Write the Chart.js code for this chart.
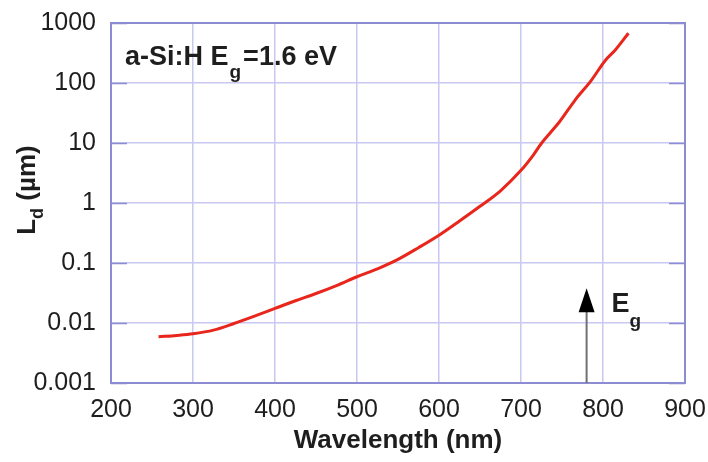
<!DOCTYPE html>
<html>
<head>
<meta charset="utf-8">
<script src="https://cdn.jsdelivr.net/npm/chart.js@4"></script>
<style>
  body { margin: 0; background: #fff; }
  #wrap { width: 708px; height: 462px; }
</style>
</head>
<body>
<div id="wrap"><canvas id="myChart" width="708" height="462"></canvas></div>
<script>
// diffusion length vs wavelength
const wavelength = [258, 280, 300, 325, 350, 375, 400, 425, 450, 475, 500, 525, 550, 575, 600, 625, 650, 675, 700, 715, 725, 737, 747, 766, 786, 803, 815, 831];
const diffLength = [0.0059, 0.0062, 0.0066, 0.0076, 0.0098, 0.013, 0.0175, 0.0235, 0.031, 0.042, 0.059, 0.08, 0.115, 0.18, 0.29, 0.5, 0.88, 1.6, 3.5, 6.3, 9.9, 15.5, 22.6, 52, 112, 240, 355, 676];
const yTicks = [0.001, 0.01, 0.1, 1, 10, 100, 1000];
const yTickLabels = ["0.001", "0.01", "0.1", "1", "10", "100", "1000"];
const xTicks = [200, 300, 400, 500, 600, 700, 800, 900];
const egWavelength = 780;
const egArrowTop = 0.038;

const gridColor = "#c8c8f2";
const frameColor = "#8c8cd2";
const textColor = "#1e1e1e";
const FONT = "'Liberation Sans', Arial, sans-serif";

function startApp() {
  const points = wavelength.map((w, i) => ({ x: w, y: diffLength[i] }));

  const extras = {
    id: "extras",
    afterDraw(chart) {
      const ctx = chart.ctx;
      const area = chart.chartArea;
      const xs = chart.scales.x;
      const ys = chart.scales.y;
      ctx.save();

      // frame
      ctx.strokeStyle = frameColor;
      ctx.lineWidth = 2;
      ctx.strokeRect(area.left, area.top, area.right - area.left, area.bottom - area.top);

      // short inner tick marks on left and right borders
      ctx.lineWidth = 1.5;
      yTicks.forEach((v) => {
        const y = Math.round(ys.getPixelForValue(v)) + 0.5;
        ctx.beginPath();
        ctx.moveTo(area.left, y);
        ctx.lineTo(area.left + 16, y);
        ctx.moveTo(area.right - 16, y);
        ctx.lineTo(area.right, y);
        ctx.stroke();
      });

      // Eg arrow
      const ax = xs.getPixelForValue(egWavelength);
      const tipY = ys.getPixelForValue(egArrowTop);
      ctx.strokeStyle = "#707070";
      ctx.lineWidth = 2;
      ctx.beginPath();
      ctx.moveTo(ax, area.bottom);
      ctx.lineTo(ax, tipY + 20);
      ctx.stroke();
      ctx.fillStyle = "#000";
      ctx.beginPath();
      ctx.moveTo(ax, tipY);
      ctx.lineTo(ax - 8, tipY + 24);
      ctx.lineTo(ax + 8, tipY + 24);
      ctx.closePath();
      ctx.fill();

      ctx.fillStyle = textColor;
      ctx.textBaseline = "alphabetic";
      ctx.textAlign = "left";
      ctx.font = "bold 27px " + FONT;
      ctx.fillText("E", ax + 25, tipY + 24);
      ctx.font = "bold 19px " + FONT;
      ctx.fillText("g", ax + 43, tipY + 39);

      // material label
      let tx = area.left + 14;
      const ty = area.top + 42;
      ctx.font = "bold 27px " + FONT;
      ctx.fillText("a-Si:H E", tx, ty);
      tx += ctx.measureText("a-Si:H E").width;
      ctx.font = "bold 19px " + FONT;
      ctx.fillText("g", tx + 1, ty + 13);
      tx += ctx.measureText("g").width + 3;
      ctx.font = "bold 27px " + FONT;
      ctx.fillText("=1.6 eV", tx, ty);

      // y axis title with subscript
      ctx.translate(35, 190);
      ctx.rotate(-Math.PI / 2);
      ctx.font = "bold 26px " + FONT;
      const wL = ctx.measureText("L").width;
      ctx.font = "bold 18px " + FONT;
      const wd = ctx.measureText("d").width;
      ctx.font = "bold 26px " + FONT;
      const wRest = ctx.measureText(" (\u00b5m)").width;
      let px = -(wL + wd + wRest) / 2;
      ctx.fillText("L", px, 0);
      px += wL;
      ctx.font = "bold 18px " + FONT;
      ctx.fillText("d", px, 8);
      px += wd;
      ctx.font = "bold 26px " + FONT;
      ctx.fillText(" (\u00b5m)", px, 0);
      ctx.restore();
    },
  };

  const ctx = document.getElementById("myChart");
  new Chart(ctx, {
    type: "line",
    data: {
      datasets: [
        {
          data: points,
          borderColor: "#e8261c",
          borderWidth: 3,
          pointRadius: 0,
          cubicInterpolationMode: "monotone",
          fill: false,
        },
      ],
    },
    options: {
      responsive: false,
      animation: false,
      layout: { padding: { top: 23, right: 23, left: 0, bottom: 0 } },
      plugins: { legend: { display: false }, tooltip: { enabled: false } },
      scales: {
        x: {
          type: "linear",
          min: 200,
          max: 900,
          afterBuildTicks: (scale) => {
            scale.ticks = xTicks.map((v) => ({ value: v }));
          },
          afterFit: (scale) => {
            scale.height = 79;
            scale.paddingLeft = 0;
            scale.paddingRight = 0;
          },
          grid: { color: gridColor, lineWidth: 1.5, drawTicks: false },
          border: { display: false },
          ticks: {
            color: textColor,
            font: { family: FONT, size: 25 },
            padding: 12,
            maxRotation: 0,
          },
          title: {
            display: true,
            text: "Wavelength (nm)",
            color: textColor,
            font: { family: FONT, size: 26, weight: "bold" },
            padding: { top: 0, bottom: 6 },
          },
        },
        y: {
          type: "logarithmic",
          min: 0.001,
          max: 1000,
          afterBuildTicks: (scale) => {
            scale.ticks = yTicks.map((v) => ({ value: v }));
          },
          afterFit: (scale) => {
            scale.width = 111;
            scale.paddingTop = 0;
            scale.paddingBottom = 0;
          },
          grid: { color: gridColor, lineWidth: 1.5, drawTicks: false },
          border: { display: false },
          ticks: {
            color: textColor,
            font: { family: FONT, size: 25 },
            padding: 15,
            callback: (value) => yTickLabels[yTicks.indexOf(value)],
          },
        },
      },
    },
    plugins: [extras],
  });
}

startApp();
</script>
</body>
</html>
